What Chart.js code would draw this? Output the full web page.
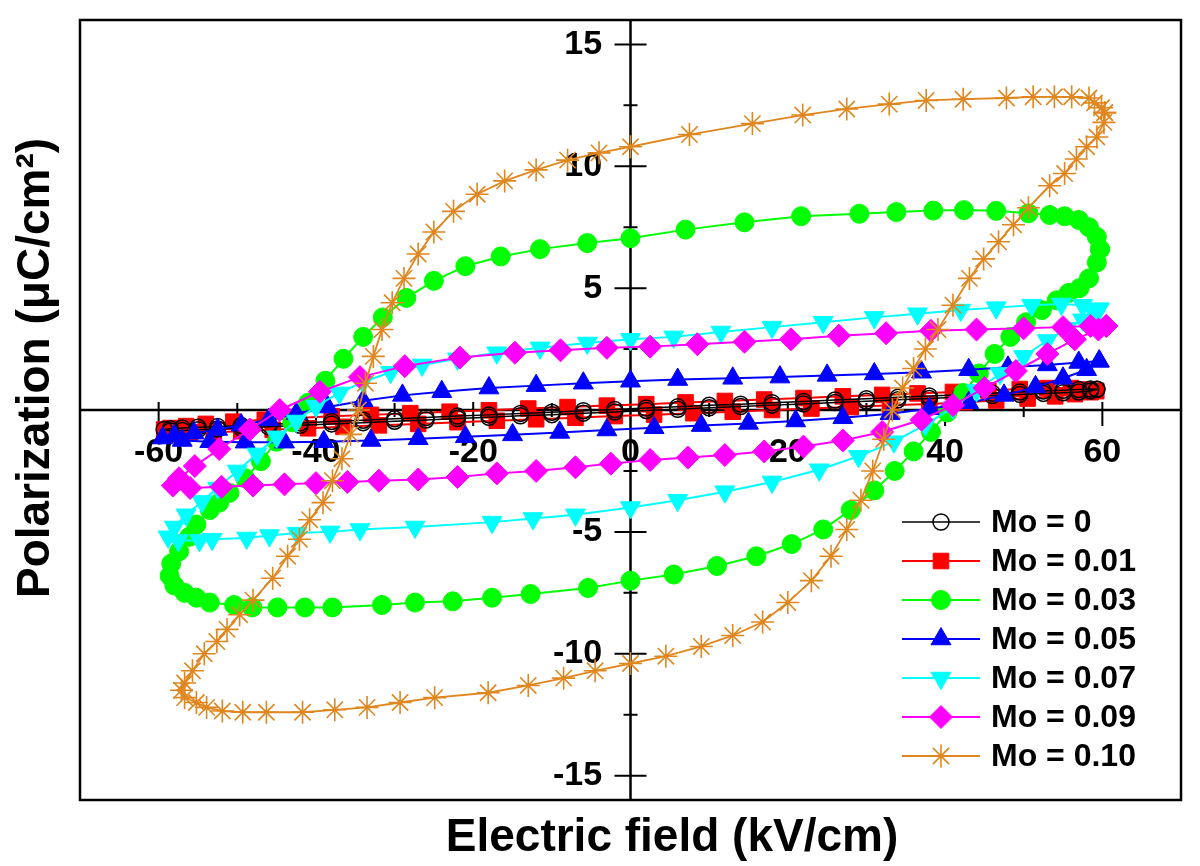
<!DOCTYPE html>
<html>
<head>
<meta charset="utf-8">
<script src="https://cdn.jsdelivr.net/npm/chart.js@4.4.1/dist/chart.umd.min.js"></script>
<style>
  html, body { margin: 0; padding: 0; background: #fff; }
  #caixa { width: 1200px; height: 866px; }
</style>
</head>
<body>
<div id="caixa"><canvas id="fazer_histerese"></canvas></div>
<script>
// marcas dos eixos
const ticksCampo = [-60, -40, -20, 0, 20, 40, 60];
const rotulosCampo = ['-60', '-40', '-20', '0', '20', '40', '60'];
const ticksPolarizacao = [-15, -10, -5, 5, 10, 15];
const rotulosPolarizacao = ['-15', '-10', '-5', '5', '10', '15'];
const marcasMaioresX = [-60, -40, -20, 20, 40, 60];
const marcasMenoresX = [-50, -30, -10, 10, 30, 50];
const marcasMaioresY = [-15, -10, -5, 5, 10, 15];
const marcasMenoresY = [-12.5, -7.5, -2.5, 2.5, 7.5, 12.5];

const rotulosLegenda = ['Mo = 0', 'Mo = 0.01', 'Mo = 0.03', 'Mo = 0.05', 'Mo = 0.07', 'Mo = 0.09', 'Mo = 0.10'];

// [campo (kV/cm), polarizacao (uC/cm2)]
const mo0 = [
  [59.3, 0.85], [58.5, 0.86], [57, 0.84], [55, 0.81], [52.5, 0.78], [49.5, 0.74], [46, 0.69], [42, 0.63],
  [38, 0.57], [34, 0.52], [30, 0.46], [26, 0.41], [22, 0.35], [18, 0.30], [14, 0.24], [10, 0.19],
  [6, 0.13], [2, 0.08], [-2, 0.02], [-6, -0.03], [-10, -0.09], [-14, -0.14], [-18, -0.20], [-22, -0.25],
  [-26, -0.31], [-30, -0.36], [-34, -0.42], [-38, -0.47], [-42, -0.53], [-46, -0.59], [-49.5, -0.64],
  [-52.5, -0.68], [-55, -0.71], [-57, -0.74], [-58.5, -0.77], [-59.3, -0.80],
  [-58.5, -0.86], [-57, -0.84], [-55, -0.81], [-52.5, -0.78], [-49.5, -0.74], [-46, -0.69], [-42, -0.63],
  [-38, -0.57], [-34, -0.52], [-30, -0.46], [-26, -0.41], [-22, -0.35], [-18, -0.30], [-14, -0.24],
  [-10, -0.19], [-6, -0.13], [-2, -0.08], [2, -0.02], [6, 0.03], [10, 0.09], [14, 0.14], [18, 0.20],
  [22, 0.25], [26, 0.31], [30, 0.36], [34, 0.42], [38, 0.47], [42, 0.53], [46, 0.59], [49.5, 0.64],
  [52.5, 0.68], [55, 0.71], [57, 0.74], [58.5, 0.78], [59.3, 0.85]
];
const mo001 = [
  [59.2, 0.78], [58, 0.84], [56, 0.9], [53, 0.9], [49.5, 0.86], [45.5, 0.8], [41, 0.74], [36.5, 0.68],
  [32, 0.62], [27, 0.56], [22, 0.49], [17, 0.43], [12, 0.37], [7, 0.31], [2, 0.24], [-3, 0.18],
  [-8, 0.12], [-13, 0.06], [-18, -0.01], [-23, -0.07], [-28, -0.13], [-33, -0.2], [-38, -0.26],
  [-42.5, -0.33], [-46.5, -0.4], [-50.5, -0.48], [-54, -0.57], [-56.5, -0.66], [-58.5, -0.74], [-59.3, -0.8],
  [-58, -0.88], [-56, -0.92], [-53, -0.91], [-49.5, -0.87], [-45.5, -0.81], [-41, -0.75], [-36.5, -0.69],
  [-32, -0.63], [-27, -0.57], [-22, -0.5], [-17, -0.44], [-12, -0.38], [-7, -0.32], [-2, -0.25],
  [3, -0.19], [8, -0.13], [13, -0.07], [18, 0.0], [23, 0.06], [28, 0.12], [33, 0.19], [38, 0.25],
  [42.5, 0.32], [46.5, 0.39], [50.5, 0.47], [54, 0.56], [56.5, 0.65], [58.5, 0.73], [59.2, 0.78]
];
const mo003 = [
  [59.7, 6.6], [59.3, 7.1], [58.3, 7.5], [57.0, 7.8], [55.2, 7.95], [53.3, 8.0], [50.6, 8.07], [46.5, 8.17],
  [42.4, 8.2], [38.5, 8.18], [33.8, 8.12], [29.1, 8.05], [21.7, 7.95], [14.5, 7.7], [7, 7.4], [0, 7.05],
  [-5.5, 6.85], [-11.5, 6.6], [-16.5, 6.3], [-21, 5.9], [-25, 5.3], [-28.5, 4.6], [-31.5, 3.8], [-34, 3.0],
  [-36.5, 2.1], [-38.8, 1.2], [-41, 0.3], [-43, -0.5], [-45, -1.3], [-47, -2.1], [-49, -2.8], [-51, -3.4],
  [-52.3, -3.8], [-53.5, -4.1], [-55.2, -4.7], [-56.1, -5.2], [-57.4, -5.8], [-58.4, -6.3], [-58.6, -6.8],
  [-58, -7.2], [-56.7, -7.5], [-55.2, -7.7], [-53.5, -7.9], [-50.4, -8.0], [-48.1, -8.1], [-44.9, -8.1],
  [-41.4, -8.1], [-37.9, -8.1], [-31.6, -8.0], [-27.4, -7.9], [-22.6, -7.85], [-17.6, -7.7], [-12.7, -7.55],
  [-5.4, -7.3], [0, -7.0], [5.5, -6.75], [11, -6.4], [16, -6.0], [20.5, -5.5], [24.5, -4.9], [28, -4.1],
  [31, -3.3], [33.6, -2.5], [36, -1.7], [38.2, -0.9], [40.3, -0.1], [42.3, 0.7], [44.3, 1.5], [46.3, 2.3],
  [48.3, 3.0], [50.3, 3.6], [52.3, 4.1], [54.2, 4.5], [55.7, 4.8], [57.1, 5.0], [58.3, 5.4], [59.3, 6.05],
  [59.7, 6.6]
];
const mo005 = [
  [59.6, 2.0], [57, 1.95], [53, 1.85], [48, 1.75], [43, 1.65], [37, 1.55], [31, 1.48], [25, 1.42],
  [19, 1.35], [13, 1.3], [6, 1.25], [0, 1.18], [-6, 1.1], [-12, 1.0], [-18, 0.9], [-24, 0.75], [-29, 0.6],
  [-34, 0.38], [-38.5, 0.12], [-42.5, -0.15], [-46, -0.4], [-49.5, -0.62], [-52.5, -0.8], [-55.5, -0.95],
  [-58, -1.05], [-59.5, -1.15],
  [-57, -1.25], [-53.5, -1.3], [-49, -1.32], [-44, -1.32], [-39, -1.3], [-33, -1.25], [-27, -1.18],
  [-21, -1.1], [-15, -1.02], [-9, -0.92], [-3, -0.82], [3, -0.73], [9, -0.64], [15, -0.55], [21, -0.45],
  [27, -0.32], [33, -0.15], [38, 0.05], [43, 0.3], [47.5, 0.6], [51.5, 0.95], [55, 1.3], [58, 1.65], [59.6, 2.0]
];
const mo007 = [
  [59.6, 4.15], [57.5, 4.3], [54.8, 4.35], [51, 4.3], [46.5, 4.2], [42, 4.1], [36.5, 3.95], [31, 3.8],
  [24.5, 3.6], [18, 3.4], [11.5, 3.2], [5.5, 3.0], [0, 2.9], [-5.5, 2.75], [-11.5, 2.55], [-17, 2.35],
  [-22, 2.1], [-26.5, 1.85], [-30.5, 1.55], [-34, 1.15], [-37, 0.7], [-40, 0.15], [-42.5, -0.45],
  [-45, -1.1], [-47.5, -1.8], [-50, -2.5], [-52.5, -3.2], [-54.5, -3.75], [-56.5, -4.3], [-58, -4.8], [-58.8, -5.2],
  [-57.5, -5.35], [-54.8, -5.35], [-53.2, -5.3], [-48.8, -5.25], [-45.9, -5.15], [-42.4, -5.05], [-38.2, -5.0],
  [-34.4, -4.9], [-27.4, -4.8], [-17.6, -4.6], [-12.4, -4.45], [-7, -4.3], [0, -4.0], [6, -3.7], [12, -3.35],
  [18, -2.95], [24, -2.45], [29, -1.9], [33.5, -1.3], [37.5, -0.6], [41, 0.1], [44, 0.8], [47, 1.5],
  [50, 2.2], [53, 2.85], [55.5, 3.35], [57.5, 3.7], [59, 3.95], [59.6, 4.15]
];
const mo009 = [
  [60.5, 3.45], [58.5, 3.45], [55, 3.4], [50, 3.35], [44, 3.3], [38.2, 3.25], [32.5, 3.15], [26.5, 3.05],
  [20.4, 2.9], [14.5, 2.8], [8.5, 2.7], [2.5, 2.6], [-3, 2.55], [-8.9, 2.45], [-14.7, 2.35], [-21.7, 2.15],
  [-28.7, 1.8], [-34.4, 1.35], [-39.5, 0.75], [-44.6, 0.0], [-48.4, -0.8], [-52.3, -1.6], [-55.4, -2.3],
  [-57.4, -2.8], [-58.2, -3.1],
  [-56, -3.2], [-52, -3.15], [-48, -3.1], [-44, -3.05], [-40, -3.0], [-36, -2.95], [-32, -2.9], [-27, -2.85],
  [-22, -2.75], [-17, -2.6], [-12, -2.5], [-7, -2.35], [-2.5, -2.2], [2.5, -2.05], [7.3, -1.95], [12, -1.85],
  [17, -1.7], [22, -1.5], [27, -1.25], [32, -0.9], [37, -0.4], [41, 0.2], [45, 0.9], [49, 1.6], [53, 2.3],
  [56.5, 2.9], [59.5, 3.3], [60.5, 3.45]
];
const mo010 = [
  [60.3, 12.2], [59.9, 12.4], [59.0, 12.6], [58.3, 12.8], [56.1, 12.85], [53.9, 12.85], [51.2, 12.85],
  [47.8, 12.8], [42.3, 12.75], [37.6, 12.7], [32.9, 12.55], [27.5, 12.35], [21.9, 12.1], [15.5, 11.75],
  [7.5, 11.3], [0, 10.8], [-4, 10.55], [-8, 10.25], [-12, 9.85], [-16, 9.4], [-19.5, 8.85], [-22.5, 8.15],
  [-25, 7.3], [-27, 6.4], [-28.8, 5.4], [-30.3, 4.4], [-31.6, 3.3], [-32.7, 2.2], [-33.7, 1.1], [-34.6, 0.0],
  [-35.6, -1.0], [-36.7, -2.0], [-37.9, -2.9], [-39.1, -3.8], [-40.8, -4.5], [-42.1, -5.3], [-43.6, -6.0],
  [-45.5, -6.9], [-48.0, -7.8], [-49.7, -8.4], [-51.3, -9.0], [-52.6, -9.5], [-54.2, -10.0], [-55.7, -10.7],
  [-56.7, -11.2], [-57.1, -11.5],
  [-56.7, -11.8], [-55.2, -12.0], [-53.9, -12.2], [-51.9, -12.35], [-49.3, -12.4], [-46.3, -12.4],
  [-41.7, -12.4], [-37.6, -12.3], [-33.5, -12.2], [-29.3, -12.0], [-24.9, -11.8], [-18.1, -11.6],
  [-13.0, -11.3], [-8.5, -11.0], [-4.5, -10.7], [0, -10.4], [4.5, -10.1], [9, -9.7], [13, -9.25],
  [16.8, -8.7], [20, -7.9], [23, -7.0], [25.5, -6.0], [27.5, -4.9], [29.3, -3.7], [30.8, -2.5],
  [32.2, -1.2], [33.3, 0.0], [34.6, 0.9], [36.0, 1.7], [37.5, 2.5], [39.1, 3.3], [41, 4.3], [43.1, 5.4],
  [44.9, 6.2], [46.8, 6.9], [48.7, 7.6], [50.6, 8.3], [53.3, 9.2], [55.2, 9.7], [56.7, 10.3], [58.0, 10.8],
  [59.3, 11.2], [60.2, 11.8], [60.3, 12.2]
];

const fonte = "'Liberation Sans', Arial, sans-serif";

// estilo de cada curva (ordem: menor numero fica por cima)
const estilos = [
  { dados: mo0, cor: '#000000', fundo: 'rgba(0,0,0,0)', forma: 'circle', raio: 8, giro: 0, bordaPonto: 1.5, linha: 1.5, ordem: 5 },
  { dados: mo001, cor: '#ff0000', fundo: '#ff0000', forma: 'rect', raio: 11, giro: 0, bordaPonto: 1, linha: 2, ordem: 6 },
  { dados: mo003, cor: '#00ff00', fundo: '#00ff00', forma: 'circle', raio: 9.5, giro: 0, bordaPonto: 1, linha: 2, ordem: 4 },
  { dados: mo005, cor: '#0000ff', fundo: '#0000ff', forma: 'triangle', raio: 11.5, giro: 0, bordaPonto: 1, linha: 2, ordem: 3 },
  { dados: mo007, cor: '#00ffff', fundo: '#00ffff', forma: 'triangle', raio: 11.5, giro: 180, bordaPonto: 1, linha: 2, ordem: 2 },
  { dados: mo009, cor: '#ff00ff', fundo: '#ff00ff', forma: 'rectRot', raio: 11.5, giro: 0, bordaPonto: 1, linha: 2, ordem: 1 },
  { dados: mo010, cor: '#e0861e', fundo: 'rgba(0,0,0,0)', forma: 'star', raio: 11.5, giro: 0, bordaPonto: 1.6, linha: 1.8, ordem: 0 },
];

// moldura, eixos cruzando no zero e marcas
const pluginEixos = {
  id: 'eixos',
  beforeDatasetsDraw(chart) {
    const { ctx, chartArea, scales: { x, y } } = chart;
    const x0 = x.getPixelForValue(0);
    const y0 = y.getPixelForValue(0);
    ctx.save();
    ctx.strokeStyle = '#000';
    ctx.lineWidth = 2.5;
    ctx.strokeRect(chartArea.left, chartArea.top, chartArea.right - chartArea.left, chartArea.bottom - chartArea.top);
    ctx.beginPath();
    ctx.moveTo(chartArea.left, y0);
    ctx.lineTo(chartArea.right, y0);
    ctx.moveTo(x0, chartArea.top);
    ctx.lineTo(x0, chartArea.bottom);
    ctx.stroke();

    ctx.lineWidth = 2;
    ctx.beginPath();
    marcasMaioresX.forEach(v => { const p = x.getPixelForValue(v); ctx.moveTo(p, y0 - 8); ctx.lineTo(p, y0 + 16); });
    marcasMenoresX.forEach(v => { const p = x.getPixelForValue(v); ctx.moveTo(p, y0 - 7); ctx.lineTo(p, y0 + 7); });
    marcasMaioresY.forEach(v => { const p = y.getPixelForValue(v); ctx.moveTo(x0 - 16, p); ctx.lineTo(x0 + 16, p); });
    marcasMenoresY.forEach(v => { const p = y.getPixelForValue(v); ctx.moveTo(x0 - 7, p); ctx.lineTo(x0 + 7, p); });
    ctx.stroke();
    ctx.restore();
  },
  afterDraw(chart) {
    const { ctx } = chart;
    ctx.save();
    ctx.fillStyle = '#000';
    ctx.font = `bold 46px ${fonte}`;
    ctx.textAlign = 'center';
    ctx.textBaseline = 'alphabetic';
    ctx.fillText('Electric field (kV/cm)', 672, 851);
    ctx.translate(49, 368);
    ctx.rotate(-Math.PI / 2);
    ctx.fillText('Polarization (\u03bcC/cm\u00b2)', 0, 0);
    ctx.restore();

    // legenda
    ctx.save();
    const desenharPonto = Chart.helpers && Chart.helpers.drawPoint;
    chart.data.datasets.forEach((ds, i) => {
      const yy = 522 + i * 39;
      ctx.strokeStyle = ds.borderColor;
      ctx.lineWidth = ds.borderWidth;
      ctx.beginPath();
      ctx.moveTo(902, yy);
      ctx.lineTo(980, yy);
      ctx.stroke();
      if (desenharPonto) {
        ctx.fillStyle = ds.pointBackgroundColor;
        ctx.strokeStyle = ds.pointBorderColor;
        ctx.lineWidth = ds.pointBorderWidth;
        desenharPonto(ctx, {
          pointStyle: ds.pointStyle,
          rotation: ds.pointRotation,
          radius: ds.pointRadius,
          borderWidth: ds.pointBorderWidth,
        }, 941, yy);
      }
      ctx.fillStyle = '#000';
      ctx.font = `bold 32px ${fonte}`;
      ctx.textAlign = 'left';
      ctx.textBaseline = 'middle';
      ctx.fillText(ds.label, 991, yy + 1);
    });
    ctx.restore();
  }
};

function criarGraficoHisterese() {
  const canvas_histerese = document.getElementById('fazer_histerese');
  if (!canvas_histerese) {
    console.log('Canvas nao encontrado');
    return;
  }
  const ctx = canvas_histerese.getContext('2d');

  const datasets = estilos.map((s, i) => ({
    label: rotulosLegenda[i],
    data: s.dados.map(([campo, pol]) => ({ x: campo, y: pol })),
    showLine: true,
    fill: false,
    tension: 0,
    borderColor: s.cor,
    borderWidth: s.linha,
    pointStyle: s.forma,
    pointRadius: s.raio,
    pointHoverRadius: s.raio,
    pointRotation: s.giro,
    pointBackgroundColor: s.fundo,
    pointBorderColor: s.cor,
    pointBorderWidth: s.bordaPonto,
    order: s.ordem,
  }));

  try {
    new Chart(ctx, {
      type: 'scatter',
      data: { datasets: datasets },
      options: {
        responsive: true,
        maintainAspectRatio: false,
        animation: false,
        events: [],
        layout: { padding: { left: 80, top: 20, right: 19, bottom: 66 } },
        plugins: {
          legend: { display: false },
          tooltip: { enabled: false },
        },
        scales: {
          x: {
            type: 'linear',
            min: -70,
            max: 70,
            position: { y: 0 },
            afterFit: (escala) => { escala.height = 0; escala.paddingLeft = 0; escala.paddingRight = 0; },
            afterBuildTicks: (escala) => { escala.ticks = ticksCampo.map(v => ({ value: v })); },
            grid: { display: false, drawTicks: false },
            border: { display: false },
            ticks: {
              autoSkip: false,
              maxRotation: 0,
              padding: 22,
              color: '#000',
              font: { family: fonte, size: 34, weight: 'bold' },
              callback: (valor, indice) => rotulosCampo[indice],
            },
          },
          y: {
            type: 'linear',
            min: -16,
            max: 16,
            position: { x: 0 },
            afterFit: (escala) => { escala.width = 0; escala.paddingTop = 0; escala.paddingBottom = 0; },
            afterBuildTicks: (escala) => { escala.ticks = ticksPolarizacao.map(v => ({ value: v })); },
            grid: { display: false, drawTicks: false },
            border: { display: false },
            ticks: {
              autoSkip: false,
              padding: 0,
              color: '#000',
              font: { family: fonte, size: 34, weight: 'bold' },
              // eixo no meio: o rotulo fica encostado na linha, os espacos dao o recuo
              callback: (valor, indice) => rotulosPolarizacao[indice] + '   ',
            },
          },
        },
      },
      plugins: [pluginEixos],
    });
  } catch (error) {
    console.log('Erro ao criar o grafico de histerese:', error.message);
  }
}

criarGraficoHisterese();
</script>
</body>
</html>
